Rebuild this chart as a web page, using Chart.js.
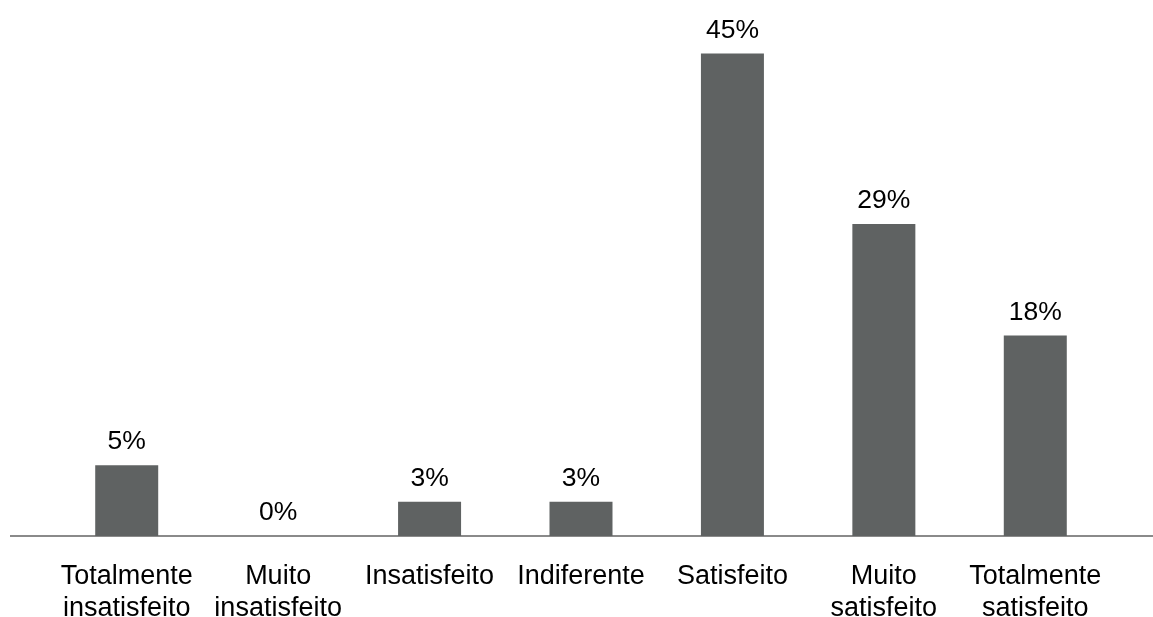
<!DOCTYPE html>
<html>
<head>
<meta charset="utf-8">
<script src="https://cdn.jsdelivr.net/npm/chart.js@4"></script>
<style>
  body { margin: 0; background: #fff; }
</style>
</head>
<body>
<canvas id="myChart" width="1153" height="617"></canvas>
<script>
// categories, bar heights and the printed labels
var categories = [
  ["Totalmente", "insatisfeito"],
  ["Muito", "insatisfeito"],
  "Insatisfeito",
  "Indiferente",
  "Satisfeito",
  ["Muito", "satisfeito"],
  ["Totalmente", "satisfeito"]
];
var values = [6.6, 0, 3.2, 3.2, 45, 29.1, 18.7];
var valueLabels = ["5%", "0%", "3%", "3%", "45%", "29%", "18%"];

var barColor = "rgb(95, 98, 98)";
var fontFamily = "'Liberation Sans', Arial, sans-serif";

// long baseline under the bars, plus the % labels on top
var extras = {
  id: "extras",
  beforeDatasetsDraw: function(chart) {
    var c = chart.ctx;
    var y = chart.scales.y.getPixelForValue(0);
    c.save();
    c.strokeStyle = "#8a8a8a";
    c.lineWidth = 2;
    c.beginPath();
    c.moveTo(10, y);
    c.lineTo(chart.width, y);
    c.stroke();
    c.restore();
  },
  afterDatasetsDraw: function(chart) {
    var c = chart.ctx;
    var meta = chart.getDatasetMeta(0);
    c.save();
    c.font = "26.5px " + fontFamily;
    c.fillStyle = "#000";
    c.textAlign = "center";
    c.textBaseline = "alphabetic";
    meta.data.forEach(function(bar, i) {
      c.fillText(valueLabels[i], bar.x, bar.y - 16);
    });
    c.restore();
  }
};

var ctx = document.getElementById("myChart");
var myChart = new Chart(ctx, {
  type: "bar",
  data: {
    labels: categories,
    datasets: [
      {
        data: values,
        backgroundColor: barColor,
        borderWidth: 0,
        categoryPercentage: 1,
        barPercentage: 0.416
      }
    ]
  },
  options: {
    responsive: false,
    animation: false,
    layout: { padding: { left: 51, right: 42, top: 0, bottom: -33 } },
    plugins: {
      legend: { display: false },
      tooltip: { enabled: false }
    },
    scales: {
      x: {
        grid: { display: false, drawTicks: false },
        border: { display: false },
        ticks: {
          color: "#000",
          padding: 25,
          maxRotation: 0,
          autoSkip: false,
          font: { family: fontFamily, size: 27, lineHeight: "32px" }
        }
      },
      y: {
        display: false,
        min: 0,
        max: 50
      }
    }
  },
  plugins: [extras]
});
</script>
</body>
</html>
